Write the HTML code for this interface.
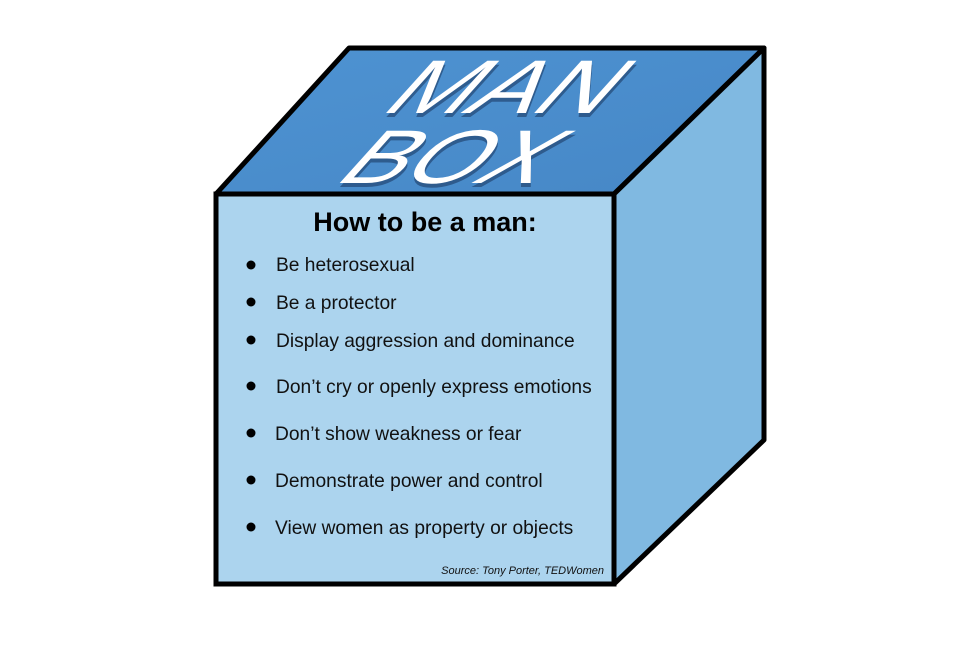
<!DOCTYPE html>
<html><head><meta charset="utf-8"><style>
html,body{margin:0;padding:0;background:#fff;}
</style></head><body>
<svg width="980" height="653" viewBox="0 0 980 653" xmlns="http://www.w3.org/2000/svg" font-family="Liberation Sans, Arial, sans-serif">
<defs>
<linearGradient id="tg" x1="0" y1="0" x2="1" y2="1"><stop offset="0" stop-color="#4e93d2"/><stop offset="1" stop-color="#4687c6"/></linearGradient>
</defs>
<polygon points="216,194 349,48 764,48 614,194" fill="url(#tg)" stroke="#000" stroke-width="5" stroke-linejoin="round"/>
<polygon points="614,194 764,48 764,440 614,584" fill="#80b9e1" stroke="#000" stroke-width="5" stroke-linejoin="round"/>
<rect x="216" y="194" width="398" height="390" fill="#acd4ee" stroke="#000" stroke-width="5"/>
<g font-size="76" fill="#fff">
<g transform="translate(378,113) skewX(-42) scale(1.3,1)">
<text x="3" y="4" fill="#1d3c66" opacity="0.6">MAN</text>
<text>MAN</text>
</g>
<g transform="translate(332,183) skewX(-42) scale(1.25,1)">
<text x="3" y="4" fill="#1d3c66" opacity="0.6">BOX</text>
<text>BOX</text>
</g>
</g>
<text x="425" y="231" font-size="27" font-weight="bold" text-anchor="middle" fill="#000">How to be a man:</text>
<g font-size="19.2" fill="#111">
<circle cx="251" cy="265" r="4.5" fill="#000"/><text x="276" y="271">Be heterosexual</text>
<circle cx="251" cy="302" r="4.5" fill="#000"/><text x="276" y="309">Be a protector</text>
<circle cx="251" cy="340" r="4.5" fill="#000"/><text x="276" y="347">Display aggression and dominance</text>
<circle cx="251" cy="386" r="4.5" fill="#000"/><text x="276" y="393">Don’t cry or openly express emotions</text>
<circle cx="251" cy="433" r="4.5" fill="#000"/><text x="275" y="440">Don’t show weakness or fear</text>
<circle cx="251" cy="480" r="4.5" fill="#000"/><text x="275" y="487">Demonstrate power and control</text>
<circle cx="251" cy="527" r="4.5" fill="#000"/><text x="275" y="534">View women as property or objects</text>
</g>
<text x="604" y="574" font-size="11" font-style="italic" text-anchor="end" fill="#111">Source: Tony Porter, TEDWomen</text>
</svg>
</body></html>
